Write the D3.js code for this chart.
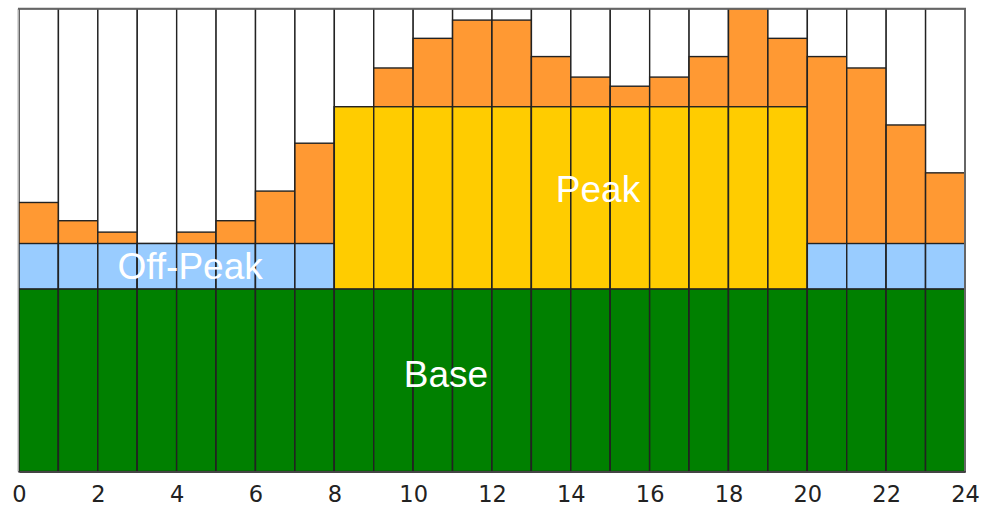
<!DOCTYPE html>
<html>
<head>
<meta charset="utf-8">
<script src="https://cdn.jsdelivr.net/npm/d3@7"></script>
<style>
  html, body { margin: 0; padding: 0; background: #fff; }
  svg { display: block; }
</style>
</head>
<body>
<svg id="chart" width="987" height="506"></svg>
<script>
// Hourly load profile: hour index and total demand per hour
const hours = d3.range(24);
const demand = [59, 55, 52.5, 50, 52.5, 55, 61.5, 72, 80, 88.5, 95, 99,
                99, 91, 86.5, 84.5, 86.5, 91, 101.5, 95, 91, 88.5, 76, 65.5];

// Generation blocks
const baseLevel = 40;       // base load, all day
const offPeakLevel = 50;    // top of off-peak block
const peakLevel = 80;       // top of peak block
const peakStart = 8, peakEnd = 20;

const tickValues = [0, 2, 4, 6, 8, 10, 12, 14, 16, 18, 20, 22, 24];

// Block labels: [text, hour position, level]
const blockLabels = [
  ["Off-Peak", 4.34, 42.2],
  ["Peak", 14.69, 59.1],
  ["Base", 10.83, 18.5]
];

const colors = {
  demand: "#FF9933",
  base: "#008000",
  offPeak: "#99CCFF",
  peak: "#FFCC00"
};

const svg = d3.select("#chart");
const plotLeft = 19, plotRight = 965, plotTop = 8.7, plotBottom = 471.5;

const x = d3.scaleLinear().domain([0, 24]).range([plotLeft, plotRight]);
const y = d3.scaleLinear().domain([0, d3.max(demand)]).range([plotBottom, plotTop]);

const g = svg.append("g");
const stroke = "#222";

function bar(h, v0, v1, fill) {
  g.append("rect")
    .attr("x", x(h))
    .attr("width", x(h + 1) - x(h))
    .attr("y", y(v1))
    .attr("height", y(v0) - y(v1))
    .attr("fill", fill)
    .attr("stroke", stroke)
    .attr("stroke-width", 1.4);
}

hours.forEach(h => {
  const isPeak = h >= peakStart && h < peakEnd;
  // empty column up to the chart top
  bar(h, 0, y.domain()[1], "#fff");
  // demand
  bar(h, 0, demand[h], colors.demand);
  // peak or off-peak block
  if (isPeak) bar(h, baseLevel, peakLevel, colors.peak);
  else bar(h, baseLevel, offPeakLevel, colors.offPeak);
  // base block
  bar(h, 0, baseLevel, colors.base);
});

// frame
svg.append("line").attr("x1", plotLeft - 1).attr("x2", plotLeft - 1).attr("y1", plotTop).attr("y2", plotBottom)
  .attr("stroke", "#ccc").attr("stroke-width", 1.5);
svg.append("line").attr("x1", plotLeft - 1).attr("x2", plotRight + 1).attr("y1", plotTop).attr("y2", plotTop)
  .attr("stroke", "#666").attr("stroke-width", 2);
svg.append("line").attr("x1", plotRight).attr("x2", plotRight).attr("y1", plotTop).attr("y2", plotBottom)
  .attr("stroke", "#666").attr("stroke-width", 2);

// block labels
svg.append("g").selectAll("text")
  .data(blockLabels)
  .join("text")
  .attr("x", d => x(d[1]))
  .attr("y", d => y(d[2]))
  .attr("text-anchor", "middle")
  .attr("fill", "#fff")
  .style("font-family", "'Liberation Sans', Arial, sans-serif")
  .style("font-size", "37px")
  .text(d => d[0]);

// x axis
const axis = d3.axisBottom(x).tickValues(tickValues).tickSize(0).tickPadding(15).tickFormat(d3.format("d"));
const ax = svg.append("g").attr("transform", `translate(0,${plotBottom})`).call(axis);
ax.select(".domain").attr("stroke", "#444").attr("stroke-width", 2);
ax.selectAll("text")
  .style("font-family", "'DejaVu Sans', Verdana, sans-serif")
  .style("font-size", "22.5px")
  .attr("fill", "#222");
</script>
</body>
</html>
